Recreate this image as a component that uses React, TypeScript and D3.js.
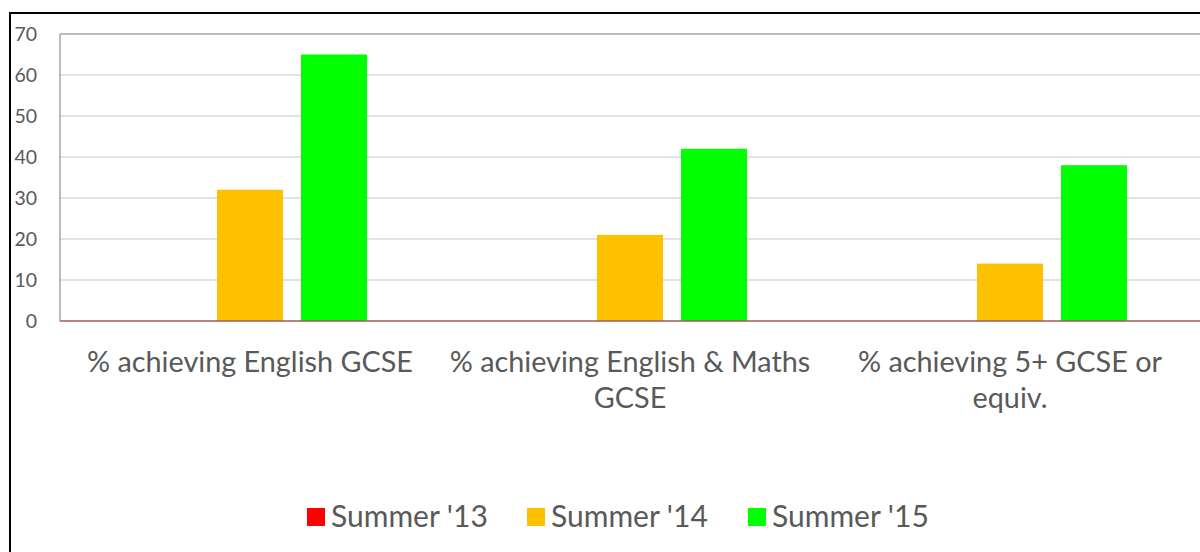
import React from "react";
import * as d3 from "d3";

const categories = [
  ["% achieving English GCSE"],
  ["% achieving English & Maths", "GCSE"],
  ["% achieving 5+ GCSE or", "equiv."],
];
const seriesNames = ["Summer '13", "Summer '14", "Summer '15"];
const summer13 = [0, 0, 0];
const summer14 = [32, 21, 14];
const summer15 = [65, 42, 38];
const yTicks = [0, 10, 20, 30, 40, 50, 60, 70];
const colors = ["#ff0000", "#ffc000", "#00ff00"];

export default function App() {
  const W = 1200, H = 552;
  const left = 60, right = 1200, top = 34, bottom = 321;
  const series = [summer13, summer14, summer15];
  const x0 = d3.scaleBand<number>().domain([0, 1, 2]).range([left, right]).paddingInner(0).paddingOuter(0);
  const x1 = d3.scaleBand<number>().domain([0, 1, 2]).range([73, 380 - 73]).paddingInner(0.214);
  const y = d3.scaleLinear().domain([0, 70]).range([bottom, top]);
  const font = "Lato, 'Open Sans', sans-serif";
  const textColor = "#595959";
  const legendX = [307, 527, 748];
  return (
    <svg width={W} height={H} style={{ position: "absolute", left: 0, top: 0, background: "#fff" }}>
      <rect x={0} y={0} width={W} height={H} fill="#fff" />
      {/* chart frame */}
      <line x1={10} x2={W} y1={13} y2={13} stroke="#000" strokeWidth={2} />
      <line x1={10} x2={10} y1={12} y2={H} stroke="#000" strokeWidth={2} />
      {/* gridlines */}
      {yTicks.filter(t => t > 0 && t < 70).map(t => (
        <line key={t} x1={left} x2={right} y1={y(t)} y2={y(t)} stroke="#d9d9d9" strokeWidth={1.5} />
      ))}
      <line x1={left} x2={right} y1={y(70)} y2={y(70)} stroke="#a6a6a6" strokeWidth={1.5} />
      <line x1={left} x2={left} y1={y(70)} y2={y(0)} stroke="#a6a6a6" strokeWidth={1.5} />
      {/* bars */}
      {categories.map((_, ci) => (
        <g key={ci} transform={`translate(${x0(ci)},0)`}>
          {series.map((s, si) => (
            <rect key={si} x={x1(si)} y={y(s[ci])} width={x1.bandwidth()} height={y(0) - y(s[ci])} fill={colors[si]} />
          ))}
        </g>
      ))}
      <line x1={left} x2={right} y1={y(0)} y2={y(0)} stroke="#a05a5a" strokeWidth={1.5} />
      {/* y ticks */}
      {yTicks.map(t => (
        <text key={t} x={37} y={y(t)} dy="0.36em" textAnchor="end" fontFamily={font} fontSize={19.5} fill={textColor}>{t}</text>
      ))}
      {/* x labels */}
      {categories.map((lines, ci) => (
        <text key={ci} textAnchor="middle" fontFamily={font} fontSize={28.8} fill={textColor}>
          {lines.map((ln, li) => (
            <tspan key={li} x={(x0(ci) as number) + x0.bandwidth() / 2} y={372 + li * 36}>{ln}</tspan>
          ))}
        </text>
      ))}
      {/* legend */}
      {seriesNames.map((n, i) => {
        const lx = legendX[i];
        return (
          <g key={n}>
            <rect x={lx} y={508} width={18} height={18} fill={colors[i]} />
            <text x={lx + 24} y={527} fontFamily={font} fontSize={30} fill={textColor}>{n}</text>
          </g>
        );
      })}
    </svg>
  );
}
